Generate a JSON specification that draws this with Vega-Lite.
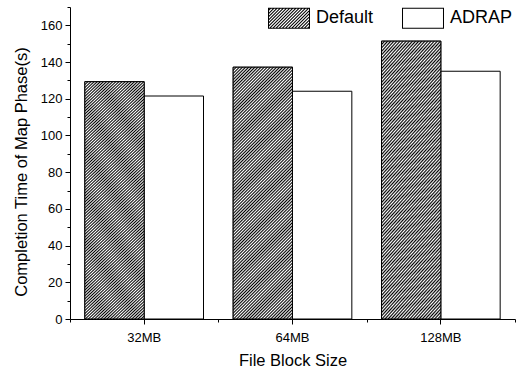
{
  "$schema": "https://vega.github.io/schema/vega-lite/v6.json",
  "width": 445,
  "height": 312,
  "autosize": "none",
  "padding": {"left": 70, "top": 7, "right": 2, "bottom": 52},
  "background": "white",
  "data": {
    "values": [
      {"size": "32MB", "method": "Default", "time": 129.3},
      {"size": "32MB", "method": "ADRAP", "time": 121.5},
      {"size": "64MB", "method": "Default", "time": 137.2},
      {"size": "64MB", "method": "ADRAP", "time": 124.1},
      {"size": "128MB", "method": "Default", "time": 151.4},
      {"size": "128MB", "method": "ADRAP", "time": 135}
    ]
  },
  "resolve": {"axis": {"x": "independent", "y": "independent"}},
  "layer": [
    {
      "mark": {"type": "bar", "fill": "#ffffff", "stroke": "black", "strokeWidth": 1},
      "encoding": {
        "x": {
          "field": "size", "type": "nominal", "sort": ["32MB", "64MB", "128MB"],
          "scale": {"paddingInner": 0, "paddingOuter": 0},
          "axis": {"title": "File Block Size", "labelAngle": 0, "tickSize": 5, "labelPadding": 7, "titlePadding": 8, "grid": false}
        },
        "xOffset": {
          "field": "method", "type": "nominal", "sort": ["Default", "ADRAP"],
          "scale": {"paddingInner": 0, "paddingOuter": 0.25}
        },
        "y": {
          "field": "time", "type": "quantitative",
          "scale": {"domain": [0, 170], "nice": false},
          "axis": {"title": "Completion Time of Map Phase(s)", "values": [0, 20, 40, 60, 80, 100, 120, 140, 160], "tickSize": 5, "labelPadding": 3, "titlePadding": 11, "titleY": 164.5, "grid": false}
        }
      }
    },
    {
      "transform": [{"filter": "datum.method === 'Default'"}],
      "mark": {
        "type": "bar", "stroke": "black", "strokeWidth": 1,
        "fill": {"gradient": "linear", "x1": 0, "y1": 0, "x2": 0.277, "y2": 1.171, "stops": [
{"offset":0,"color":"#000"},{"offset":0.005,"color":"#fff"},{"offset":0.01,"color":"#000"},{"offset":0.015,"color":"#fff"},{"offset":0.02,"color":"#000"},{"offset":0.025,"color":"#fff"},{"offset":0.03,"color":"#000"},{"offset":0.035,"color":"#fff"},{"offset":0.04,"color":"#000"},{"offset":0.045,"color":"#fff"},
{"offset":0.05,"color":"#000"},{"offset":0.055,"color":"#fff"},{"offset":0.06,"color":"#000"},{"offset":0.065,"color":"#fff"},{"offset":0.07,"color":"#000"},{"offset":0.075,"color":"#fff"},{"offset":0.08,"color":"#000"},{"offset":0.085,"color":"#fff"},{"offset":0.09,"color":"#000"},{"offset":0.095,"color":"#fff"},
{"offset":0.1,"color":"#000"},{"offset":0.105,"color":"#fff"},{"offset":0.11,"color":"#000"},{"offset":0.115,"color":"#fff"},{"offset":0.12,"color":"#000"},{"offset":0.125,"color":"#fff"},{"offset":0.13,"color":"#000"},{"offset":0.135,"color":"#fff"},{"offset":0.14,"color":"#000"},{"offset":0.145,"color":"#fff"},
{"offset":0.15,"color":"#000"},{"offset":0.155,"color":"#fff"},{"offset":0.16,"color":"#000"},{"offset":0.165,"color":"#fff"},{"offset":0.17,"color":"#000"},{"offset":0.175,"color":"#fff"},{"offset":0.18,"color":"#000"},{"offset":0.185,"color":"#fff"},{"offset":0.19,"color":"#000"},{"offset":0.195,"color":"#fff"},
{"offset":0.2,"color":"#000"},{"offset":0.205,"color":"#fff"},{"offset":0.21,"color":"#000"},{"offset":0.215,"color":"#fff"},{"offset":0.22,"color":"#000"},{"offset":0.225,"color":"#fff"},{"offset":0.23,"color":"#000"},{"offset":0.235,"color":"#fff"},{"offset":0.24,"color":"#000"},{"offset":0.245,"color":"#fff"},
{"offset":0.25,"color":"#000"},{"offset":0.255,"color":"#fff"},{"offset":0.26,"color":"#000"},{"offset":0.265,"color":"#fff"},{"offset":0.27,"color":"#000"},{"offset":0.275,"color":"#fff"},{"offset":0.28,"color":"#000"},{"offset":0.285,"color":"#fff"},{"offset":0.29,"color":"#000"},{"offset":0.295,"color":"#fff"},
{"offset":0.3,"color":"#000"},{"offset":0.305,"color":"#fff"},{"offset":0.31,"color":"#000"},{"offset":0.315,"color":"#fff"},{"offset":0.32,"color":"#000"},{"offset":0.325,"color":"#fff"},{"offset":0.33,"color":"#000"},{"offset":0.335,"color":"#fff"},{"offset":0.34,"color":"#000"},{"offset":0.345,"color":"#fff"},
{"offset":0.35,"color":"#000"},{"offset":0.355,"color":"#fff"},{"offset":0.36,"color":"#000"},{"offset":0.365,"color":"#fff"},{"offset":0.37,"color":"#000"},{"offset":0.375,"color":"#fff"},{"offset":0.38,"color":"#000"},{"offset":0.385,"color":"#fff"},{"offset":0.39,"color":"#000"},{"offset":0.395,"color":"#fff"},
{"offset":0.4,"color":"#000"},{"offset":0.405,"color":"#fff"},{"offset":0.41,"color":"#000"},{"offset":0.415,"color":"#fff"},{"offset":0.42,"color":"#000"},{"offset":0.425,"color":"#fff"},{"offset":0.43,"color":"#000"},{"offset":0.435,"color":"#fff"},{"offset":0.44,"color":"#000"},{"offset":0.445,"color":"#fff"},
{"offset":0.45,"color":"#000"},{"offset":0.455,"color":"#fff"},{"offset":0.46,"color":"#000"},{"offset":0.465,"color":"#fff"},{"offset":0.47,"color":"#000"},{"offset":0.475,"color":"#fff"},{"offset":0.48,"color":"#000"},{"offset":0.485,"color":"#fff"},{"offset":0.49,"color":"#000"},{"offset":0.495,"color":"#fff"},
{"offset":0.5,"color":"#000"},{"offset":0.505,"color":"#fff"},{"offset":0.51,"color":"#000"},{"offset":0.515,"color":"#fff"},{"offset":0.52,"color":"#000"},{"offset":0.525,"color":"#fff"},{"offset":0.53,"color":"#000"},{"offset":0.535,"color":"#fff"},{"offset":0.54,"color":"#000"},{"offset":0.545,"color":"#fff"},
{"offset":0.55,"color":"#000"},{"offset":0.555,"color":"#fff"},{"offset":0.56,"color":"#000"},{"offset":0.565,"color":"#fff"},{"offset":0.57,"color":"#000"},{"offset":0.575,"color":"#fff"},{"offset":0.58,"color":"#000"},{"offset":0.585,"color":"#fff"},{"offset":0.59,"color":"#000"},{"offset":0.595,"color":"#fff"},
{"offset":0.6,"color":"#000"},{"offset":0.605,"color":"#fff"},{"offset":0.61,"color":"#000"},{"offset":0.615,"color":"#fff"},{"offset":0.62,"color":"#000"},{"offset":0.625,"color":"#fff"},{"offset":0.63,"color":"#000"},{"offset":0.635,"color":"#fff"},{"offset":0.64,"color":"#000"},{"offset":0.645,"color":"#fff"},
{"offset":0.65,"color":"#000"},{"offset":0.655,"color":"#fff"},{"offset":0.66,"color":"#000"},{"offset":0.665,"color":"#fff"},{"offset":0.67,"color":"#000"},{"offset":0.675,"color":"#fff"},{"offset":0.68,"color":"#000"},{"offset":0.685,"color":"#fff"},{"offset":0.69,"color":"#000"},{"offset":0.695,"color":"#fff"},
{"offset":0.7,"color":"#000"},{"offset":0.705,"color":"#fff"},{"offset":0.71,"color":"#000"},{"offset":0.715,"color":"#fff"},{"offset":0.72,"color":"#000"},{"offset":0.725,"color":"#fff"},{"offset":0.73,"color":"#000"},{"offset":0.735,"color":"#fff"},{"offset":0.74,"color":"#000"},{"offset":0.745,"color":"#fff"},
{"offset":0.75,"color":"#000"},{"offset":0.755,"color":"#fff"},{"offset":0.76,"color":"#000"},{"offset":0.765,"color":"#fff"},{"offset":0.77,"color":"#000"},{"offset":0.775,"color":"#fff"},{"offset":0.78,"color":"#000"},{"offset":0.785,"color":"#fff"},{"offset":0.79,"color":"#000"},{"offset":0.795,"color":"#fff"},
{"offset":0.8,"color":"#000"},{"offset":0.805,"color":"#fff"},{"offset":0.81,"color":"#000"},{"offset":0.815,"color":"#fff"},{"offset":0.82,"color":"#000"},{"offset":0.825,"color":"#fff"},{"offset":0.83,"color":"#000"},{"offset":0.835,"color":"#fff"},{"offset":0.84,"color":"#000"},{"offset":0.845,"color":"#fff"},
{"offset":0.85,"color":"#000"},{"offset":0.855,"color":"#fff"},{"offset":0.86,"color":"#000"},{"offset":0.865,"color":"#fff"},{"offset":0.87,"color":"#000"},{"offset":0.875,"color":"#fff"},{"offset":0.88,"color":"#000"},{"offset":0.885,"color":"#fff"},{"offset":0.89,"color":"#000"},{"offset":0.895,"color":"#fff"},
{"offset":0.9,"color":"#000"},{"offset":0.905,"color":"#fff"},{"offset":0.91,"color":"#000"},{"offset":0.915,"color":"#fff"},{"offset":0.92,"color":"#000"},{"offset":0.925,"color":"#fff"},{"offset":0.93,"color":"#000"},{"offset":0.935,"color":"#fff"},{"offset":0.94,"color":"#000"},{"offset":0.945,"color":"#fff"},
{"offset":0.95,"color":"#000"},{"offset":0.955,"color":"#fff"},{"offset":0.96,"color":"#000"},{"offset":0.965,"color":"#fff"},{"offset":0.97,"color":"#000"},{"offset":0.975,"color":"#fff"},{"offset":0.98,"color":"#000"},{"offset":0.985,"color":"#fff"},{"offset":0.99,"color":"#000"},{"offset":0.995,"color":"#fff"},
{"offset":1,"color":"#000"}
        ]}
      },
      "encoding": {
        "x": {
          "field": "size", "type": "nominal", "sort": ["32MB", "64MB", "128MB"],
          "axis": {"orient": "bottom", "tickBand": "extent", "labels": false, "domain": false, "title": null, "tickSize": 3, "grid": false}
        },
        "xOffset": {"field": "method", "type": "nominal", "sort": ["Default", "ADRAP"]},
        "y": {
          "field": "time", "type": "quantitative",
          "axis": {"orient": "left", "values": [10, 30, 50, 70, 90, 110, 130, 150, 170], "labels": false, "domain": false, "title": null, "tickSize": 3, "grid": false}
        }
      }
    },
    {
      "transform": [{"filter": "false"}],
      "mark": {"type": "point", "filled": true, "fill": "black", "strokeWidth": 0, "opacity": 1},
      "encoding": {
        "x": {"field": "size", "type": "nominal", "sort": ["32MB", "64MB", "128MB"], "axis": null},
        "y": {"field": "time", "type": "quantitative", "axis": null},
        "shape": {
          "field": "method", "type": "nominal",
          "scale": {
            "domain": ["Default", "ADRAP"],
            "range": [
              "M-1,-0.5H1V0.5H-1Z M-0.952,-0.452V0.452H0.952V-0.452Z M-0.88,-0.5L-0.81,-0.5L-1,-0.31L-1,-0.38Z M-0.73,-0.5L-0.66,-0.5L-1,-0.16L-1,-0.23Z M-0.58,-0.5L-0.51,-0.5L-1,-0.01L-1,-0.08Z M-0.43,-0.5L-0.36,-0.5L-1,0.14L-1,0.07Z M-0.28,-0.5L-0.21,-0.5L-1,0.29L-1,0.22Z M-0.13,-0.5L-0.06,-0.5L-1,0.44L-1,0.37Z M0.02,-0.5L0.09,-0.5L-0.91,0.5L-0.98,0.5Z M0.17,-0.5L0.24,-0.5L-0.76,0.5L-0.83,0.5Z M0.32,-0.5L0.39,-0.5L-0.61,0.5L-0.68,0.5Z M0.47,-0.5L0.54,-0.5L-0.46,0.5L-0.53,0.5Z M0.62,-0.5L0.69,-0.5L-0.31,0.5L-0.38,0.5Z M0.77,-0.5L0.84,-0.5L-0.16,0.5L-0.23,0.5Z M0.92,-0.5L0.99,-0.5L-0.01,0.5L-0.08,0.5Z M1,-0.43L1,-0.36L0.14,0.5L0.07,0.5Z M1,-0.28L1,-0.21L0.29,0.5L0.22,0.5Z M1,-0.13L1,-0.06L0.44,0.5L0.37,0.5Z M1,0.02L1,0.09L0.59,0.5L0.52,0.5Z M1,0.17L1,0.24L0.74,0.5L0.67,0.5Z M1,0.32L1,0.39L0.89,0.5L0.82,0.5Z",
              "M-1,-0.5H1V0.5H-1Z M-0.952,-0.452V0.452H0.952V-0.452Z"
            ]
          },
          "legend": {
            "title": null,
            "orient": "none",
            "direction": "horizontal",
            "legendX": 198,
            "legendY": -10,
            "padding": 0,
            "symbolSize": 1764,
            "symbolFillColor": "black",
            "symbolStrokeWidth": 0,
            "symbolOpacity": 1,
            "labelFontSize": 18,
            "labelOffset": 6,
            "labelColor": "black",
            "columnPadding": 28
          }
        }
      }
    }
  ],
  "config": {
    "view": {"stroke": null},
    "font": "Liberation Sans",
    "axis": {
      "domainColor": "black",
      "domainWidth": 1,
      "tickColor": "black",
      "tickWidth": 1,
      "labelColor": "black",
      "labelFont": "Liberation Sans",
      "labelFontSize": 13,
      "titleFont": "Liberation Sans",
      "titleFontSize": 16.5,
      "titleFontWeight": "normal",
      "titleColor": "black"
    },
    "legend": {"labelFont": "Liberation Sans"}
  }
}
